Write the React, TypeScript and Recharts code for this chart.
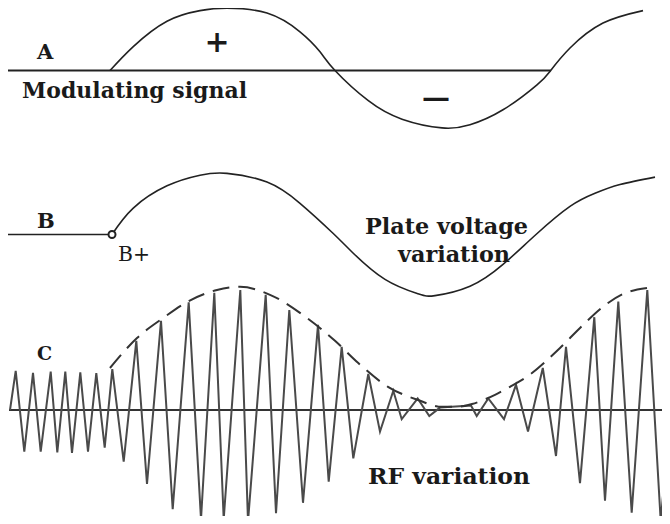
import React from 'react';
import { LineChart, Line, XAxis, YAxis, ReferenceDot } from 'recharts';

// time axis in arbitrary units (0..67), shared by all three traces
const modTime = [11.0, 13.3, 16.7, 20.0, 22.7, 26.7, 30.0, 32.0, 33.5, 36.8, 40.2, 44.2, 47.0, 50.3, 53.7, 55.07, 57.0, 60.3, 64.3];
const modValue = [0, 0.38, 0.79, 0.96, 1.0, 0.92, 0.62, 0.3, 0, -0.48, -0.78, -0.92, -0.87, -0.63, -0.23, 0, 0.36, 0.76, 0.96];
const modAxisTime = [0.4, 55.07];

const plateTime = [11.2, 13.3, 16.7, 20.0, 22.7, 26.7, 30.0, 33.3, 35.2, 38.5, 41.8, 43.5, 47.0, 50.3, 53.6, 57.0, 59.5, 62.0, 65.5];
const plateValue = [0, 0.42, 0.78, 0.95, 0.98, 0.84, 0.5, 0.02, -0.28, -0.72, -0.95, -0.98, -0.83, -0.48, 0, 0.45, 0.66, 0.8, 0.92];
const plateLeadTime = [0.6, 11.2];

const rfTime = [
  1.0, 1.57, 2.43, 3.3, 4.07, 5.07, 5.73, 6.53, 7.2, 8.03, 8.8, 9.63, 10.47, 11.23, 12.37,
  13.63, 14.7, 16.1, 17.27, 18.87, 20.1, 21.43, 22.37, 24.03, 24.8, 26.57, 27.6, 28.93, 30.3,
  31.8, 32.87, 34.17, 35.33, 36.83, 38.0, 39.33, 40.17, 41.77, 42.93, 44.0, 47.1, 47.67, 48.83,
  50.4, 51.6, 52.8, 54.28, 55.6, 56.6, 58.0, 59.43, 60.5, 61.83, 63.17, 64.73, 66.07, 67.0,
];
const rfValue = [
  0, 0.98, -1.04, 0.93, -1.04, 0.96, -1.06, 0.96, -1.07, 0.94, -1.04, 0.92, -0.94, 1.02, -1.29,
  1.73, -1.85, 2.23, -2.48, 2.69, -2.73, 2.93, -2.73, 3.0, -2.79, 2.88, -2.58, 2.5, -2.32,
  2.13, -1.79, 1.58, -1.21, 0.9, -0.54, 0.48, -0.23, 0.29, -0.15, 0.06, 0.11, -0.15, 0.29,
  -0.23, 0.63, -0.54, 1.05, -1.15, 1.58, -1.83, 2.32, -2.27, 2.71, -2.57, 3.0, -2.77, -0.25,
];
const rfAxisTime = [0.9, 67.0];

const envTime = [11.0, 13.7, 16.2, 18.7, 21.7, 24.0, 27.0, 30.7, 33.5, 35.8, 38.8, 41.8, 44.2, 45.8, 47.2, 49.5, 51.0, 52.8, 56.0, 58.0, 60.3, 62.3, 64.7];
const envValue = [1.05, 1.8, 2.28, 2.7, 3.0, 3.08, 2.88, 2.3, 1.73, 1.18, 0.58, 0.25, 0.08, 0.08, 0.15, 0.38, 0.58, 0.85, 1.55, 2.05, 2.58, 2.9, 3.05];

const toRows = (ts: number[], vs: number[]) => ts.map((t, i) => ({ t, v: vs[i] }));
const flat = (ts: number[]) => ts.map((t) => ({ t, v: 0 }));

const INK = '#222';
const FONT = '"DejaVu Serif", "Liberation Serif", serif';

const panel = (top: number, height: number): React.CSSProperties => ({
  position: 'absolute',
  left: 0,
  top,
  width: 670,
  height,
});

const noMargin = { top: 0, right: 0, bottom: 0, left: 0 };

export default function App() {
  return (
    <div style={{ position: 'relative', width: 670, height: 524, margin: -8, overflow: 'hidden', background: '#fff' }}>
      {/* A: modulating signal */}
      <div style={panel(0, 141)}>
        <LineChart width={670} height={141} margin={noMargin}>
          <XAxis dataKey="t" type="number" domain={[0, 67]} hide />
          <YAxis type="number" domain={[-1.13, 1.13]} hide allowDataOverflow />
          <Line data={flat(modAxisTime)} dataKey="v" stroke={INK} strokeWidth={2} dot={false} isAnimationActive={false} />
          <Line data={toRows(modTime, modValue)} dataKey="v" type="natural" stroke={INK} strokeWidth={1.6} dot={false} isAnimationActive={false} />
        </LineChart>
      </div>

      {/* B: plate voltage */}
      <div style={panel(164, 141)}>
        <LineChart width={670} height={141} margin={noMargin}>
          <XAxis dataKey="t" type="number" domain={[0, 67]} hide />
          <YAxis type="number" domain={[-1.13, 1.13]} hide allowDataOverflow />
          <Line data={flat(plateLeadTime)} dataKey="v" stroke={INK} strokeWidth={1.6} dot={false} isAnimationActive={false} />
          <Line data={toRows(plateTime, plateValue)} dataKey="v" type="natural" stroke={INK} strokeWidth={1.6} dot={false} isAnimationActive={false} />
          <ReferenceDot x={plateLeadTime[1]} y={0} r={3.5} fill="#fff" stroke={INK} strokeWidth={2} />
        </LineChart>
      </div>

      {/* C: RF */}
      <div style={panel(280, 250)}>
        <LineChart width={670} height={250} margin={noMargin}>
          <XAxis dataKey="t" type="number" domain={[0, 67]} hide />
          <YAxis type="number" domain={[-3, 3.25]} hide allowDataOverflow />
          <Line data={flat(rfAxisTime)} dataKey="v" stroke="#333" strokeWidth={2.2} dot={false} isAnimationActive={false} />
          <Line data={toRows(rfTime, rfValue)} dataKey="v" type="linear" stroke="#4a4a4a" strokeWidth={2} dot={false} isAnimationActive={false} />
          <Line data={toRows(envTime, envValue)} dataKey="v" type="monotone" stroke="#333" strokeWidth={2} strokeDasharray="17 9" dot={false} isAnimationActive={false} />
        </LineChart>
      </div>

      <svg width={670} height={524} style={{ position: 'absolute', left: 0, top: 0, pointerEvents: 'none' }}>
        <g fontFamily={FONT} fill="#1a1a1a">
          <text x={37} y={59} fontSize={21} fontWeight="bold">A</text>
          <text x={217} y={52} fontSize={30} fontWeight="bold" textAnchor="middle">+</text>
          <text x={22} y={98} fontSize={23} fontWeight="bold" textLength={225} lengthAdjust="spacingAndGlyphs">Modulating signal</text>
          <text x={436} y={107} fontSize={28} fontWeight="bold" textAnchor="middle">—</text>
          <text x={37} y={228} fontSize={21} fontWeight="bold">B</text>
          <text x={118} y={261} fontSize={21} textLength={32} lengthAdjust="spacingAndGlyphs">B+</text>
          <text x={365} y={234} fontSize={23} fontWeight="bold" textLength={163} lengthAdjust="spacingAndGlyphs">Plate voltage</text>
          <text x={398} y={262} fontSize={23} fontWeight="bold" textLength={112} lengthAdjust="spacingAndGlyphs">variation</text>
          <text x={37} y={360} fontSize={19} fontWeight="bold">C</text>
          <text x={368} y={484} fontSize={23} fontWeight="bold" textLength={162} lengthAdjust="spacingAndGlyphs">RF variation</text>
        </g>
      </svg>
    </div>
  );
}
